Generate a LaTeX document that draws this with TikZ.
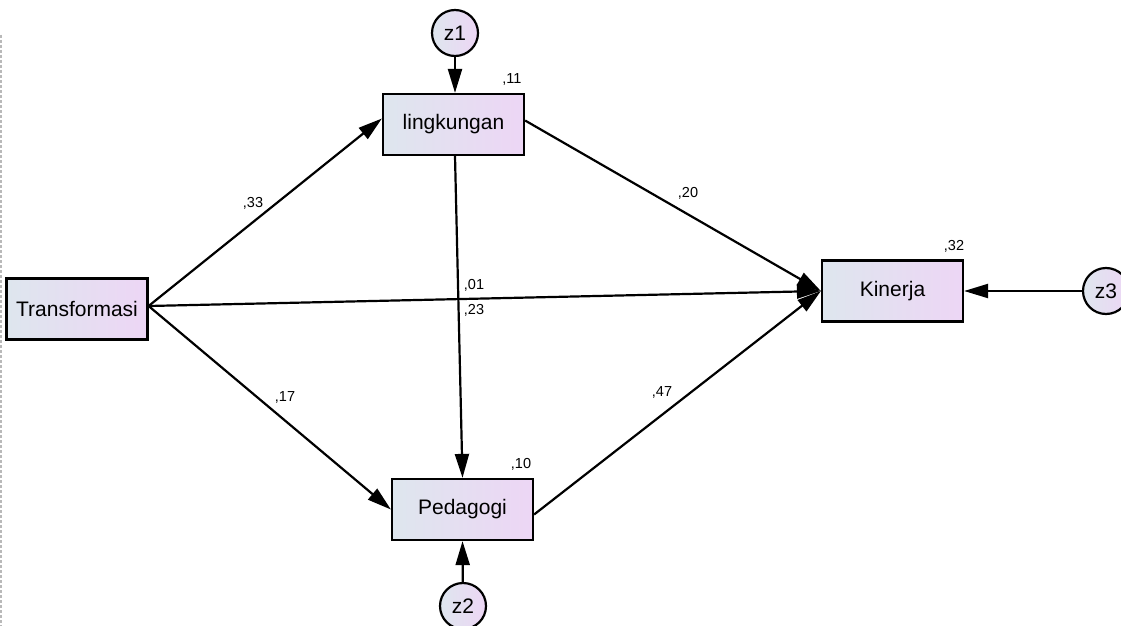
\documentclass[tikz,border=0pt]{standalone}
\usepackage{fontspec}
\setmainfont{Liberation Sans}
\usetikzlibrary{arrows.meta}
\definecolor{shadeL}{RGB}{222,230,238}
\definecolor{shadeR}{RGB}{237,214,245}
\begin{document}
\begin{tikzpicture}[x=1pt,y=-1pt,
  varbox/.style={draw=black,line width=2.2pt,minimum width=141pt,minimum height=61pt,
    inner sep=0pt,left color=shadeL,right color=shadeR,font=\fontsize{21}{23}\selectfont},
  errcirc/.style={circle,draw=black,line width=2.2pt,minimum size=46pt,inner sep=0pt,
    left color=shadeL,right color=shadeR,font=\fontsize{21}{23}\selectfont},
  path/.style={line width=2.2pt,-{Triangle[length=24pt,width=14pt]}},
  coef/.style={font=\fontsize{14.5}{16}\selectfont,inner sep=0pt}]
\useasboundingbox (0,0) rectangle (1121,626);
\fill[white] (0,0) rectangle (1121,626);
\draw[gray!55,line width=2pt,dash pattern=on 3pt off 2pt] (1,35) -- (1,626);

% observed variables
\node[varbox] (T) at (77,309) {Transformasi};
\node[varbox] (L) at (453.5,124.5) {lingkungan};
\node[varbox] (K) at (892.5,291) {Kinerja};
\node[varbox] (P) at (462.5,509.5) {Pedagogi};

% disturbances
\node[errcirc] (z1) at (455,33) {z1};
\node[errcirc] (z2) at (463,606) {z2};
\node[errcirc] (z3) at (1106,291) {z3};

% structural paths
\draw[path] ([yshift=3pt]T.east) -- ([yshift=6pt]L.west);
\draw[path] ([yshift=3pt]T.east) -- (K.west);
\draw[path] ([yshift=3pt]T.east) -- (P.west);
\draw[path] ([yshift=4pt]L.east) -- (K.west);
\draw[path] ([xshift=1.5pt]L.south) -- (P.north);
\draw[path] ([yshift=-5pt]P.east) -- (K.west);

% disturbance paths
\draw[path] (z1) -- ([xshift=1.5pt]L.north);
\draw[path] (z2) -- (P.south);
\draw[path] (z3) -- (K.east);

% coefficients
\node[coef] (c33) at (253,203) {,33};
\node[coef] (c17) at (285,397) {,17};
\node[coef] (c20) at (688,193) {,20};
\node[coef] (c47) at (662,392) {,47};
\node[coef] (c01) at (474,285) {,01};
\node[coef] (c23) at (474,310) {,23};
\node[coef] (r11) at (512,79) {,11};
\node[coef] (r32) at (954,246) {,32};
\node[coef] (r10) at (521,464) {,10};
\end{tikzpicture}
\end{document}
